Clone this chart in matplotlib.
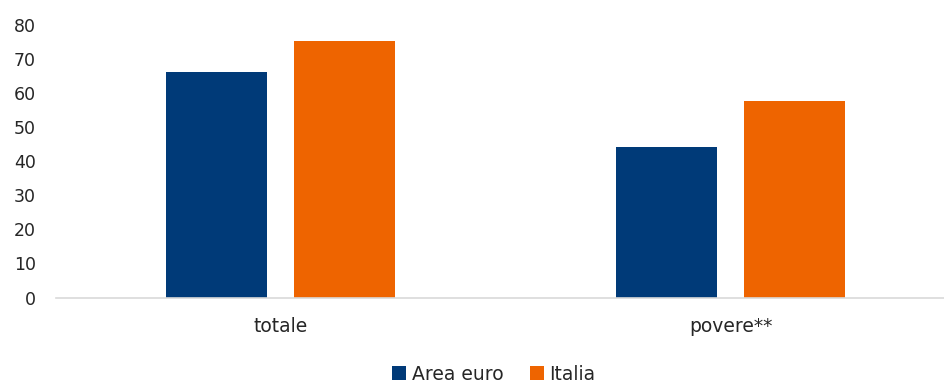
import matplotlib.pyplot as plt
import numpy as np

categories = ["totale", "povere**"]
series_names = ["Area euro", "Italia"]
area_euro = [66.2, 44.2]
italia = [75.2, 57.7]
yticks = [0, 10, 20, 30, 40, 50, 60, 70, 80]

colors = ["#003A78", "#EE6400"]

plt.rcParams["font.family"] = ["DejaVu Sans"]

fig = plt.figure(figsize=(9.44, 3.83), dpi=100)
ax = fig.add_axes([0.0588, 0.2232, 0.9412, 0.7115])

x = np.arange(len(categories))
width = 0.2244
offset = 0.1422
ax.bar(x - offset, area_euro, width, color=colors[0], label=series_names[0])
ax.bar(x + offset, italia, width, color=colors[1], label=series_names[1])

ax.set_xlim(-0.5, 1.4744)
ax.set_ylim(0, 80)
ax.set_yticks(yticks)
ax.set_xticks(x)
ax.set_xticklabels(categories)

for side in ["top", "right", "left"]:
    ax.spines[side].set_visible(False)
ax.spines["bottom"].set_color("#D9D9D9")
ax.spines["bottom"].set_linewidth(1.2)

ax.tick_params(axis="y", length=0, pad=14, labelsize=12.5, colors="#262626")
ax.tick_params(axis="x", length=0, pad=14, labelsize=13.5, colors="#262626")

ax.legend(loc="upper center", bbox_to_anchor=(0.4935, -0.185), ncol=2, frameon=False,
          fontsize=13.5, handlelength=0.75, handleheight=0.75, handletextpad=0.3,
          columnspacing=1.4, labelcolor="#262626")

fig.savefig("out.png", dpi=100)
